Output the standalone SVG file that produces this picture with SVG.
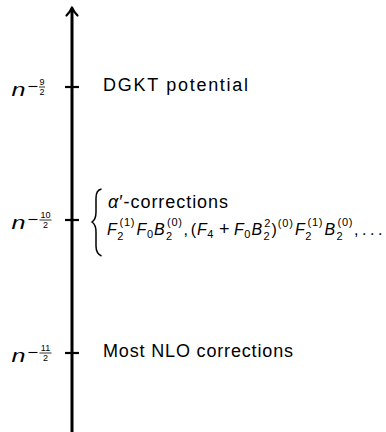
<svg xmlns="http://www.w3.org/2000/svg" width="386" height="432" viewBox="0 0 386 432">
<style>
.t{font-family:"Liberation Sans",Arial,sans-serif;fill:#000}
.m{font-family:"Liberation Sans",Arial,sans-serif;font-style:italic;fill:#000}
.s{font-size:11px}
.fr{font-size:9px}
.lb{font-size:18px}
.ax{stroke:#000;stroke-width:3;fill:none}
.tk{stroke:#000;stroke-width:2.2;fill:none}
.mi{stroke:#000;stroke-width:1.1;fill:none}
.bar{stroke:#000;stroke-width:0.8;fill:none}
</style>
<rect width="386" height="432" fill="#fff"/>
<g id="connectors">
<line class="ax" x1="72" y1="432" x2="72" y2="9"/>
<path d="M66.5,15.5 Q70.5,11.5 72,7.5 Q73.5,11.5 77.5,15.5" stroke="#000" stroke-width="2.2" fill="none" stroke-linecap="round" stroke-linejoin="round"/>
</g>
<g id="tick-9">
<line class="tk" x1="65" y1="87" x2="79" y2="87"/>
<text class="m" x="11.5" y="96" font-size="18" textLength="14" lengthAdjust="spacingAndGlyphs">n</text>
<line class="mi" x1="28.5" y1="86.5" x2="37.5" y2="86.5"/>
<text class="t fr" x="42" y="85" text-anchor="middle">9</text>
<line class="bar" x1="39" y1="87" x2="45" y2="87"/>
<text class="t fr" x="42" y="95" text-anchor="middle">2</text>
<text class="t lb" x="103" y="91" textLength="145" lengthAdjust="spacing">DGKT potential</text>
</g>
<g id="tick-10">
<line class="tk" x1="65" y1="220" x2="79" y2="220"/>
<text class="m" x="11.5" y="229" font-size="18" textLength="14" lengthAdjust="spacingAndGlyphs">n</text>
<line class="mi" x1="28.5" y1="219.5" x2="37.5" y2="219.5"/>
<text class="t fr" x="45.5" y="218" text-anchor="middle">10</text>
<line class="bar" x1="39.5" y1="220" x2="51.5" y2="220"/>
<text class="t fr" x="45.5" y="228" text-anchor="middle">2</text>
</g>
<g id="bracket">
<path d="M101.5,189 C97,190 96,193 96,198 L96,212 C96,217 95,220 92,222 C95,224 96,227 96,232 L96,246 C96,251 97,254 101.5,256" stroke="#000" stroke-width="1.5" fill="none"/>
<text class="t lb" x="108" y="207.5" textLength="120" lengthAdjust="spacing"><tspan class="m">α</tspan>′-corrections</text>
</g>
<g id="formula" font-size="16">
<text class="m" x="107" y="235">F</text>
<text class="t s" x="119.5" y="226" textLength="15" lengthAdjust="spacing">(1)</text>
<text class="t s" x="117.3" y="239.5">2</text>
<text class="m" x="136.6" y="235">F</text>
<text class="t s" x="146.9" y="237.5">0</text>
<text class="m" x="154" y="235">B</text>
<text class="t s" x="167" y="226" textLength="15" lengthAdjust="spacing">(0)</text>
<text class="t s" x="166.1" y="239.5">2</text>
<text class="t" x="183.6" y="235">,</text>
<text class="t" x="190.8" y="235">(</text>
<text class="m" x="197" y="235">F</text>
<text class="t s" x="207.3" y="237.5">4</text>
<text class="t" x="224.2" y="235" text-anchor="middle" font-size="18">+</text>
<text class="m" x="234" y="235">F</text>
<text class="t s" x="244.3" y="237.5">0</text>
<text class="m" x="251.4" y="235">B</text>
<text class="t s" x="264.3" y="226.5">2</text>
<text class="t s" x="263.5" y="239.5">2</text>
<text class="t" x="271.6" y="235">)</text>
<text class="t s" x="277.8" y="226.7" textLength="15" lengthAdjust="spacing">(0)</text>
<text class="m" x="295" y="235">F</text>
<text class="t s" x="307.5" y="226" textLength="15" lengthAdjust="spacing">(1)</text>
<text class="t s" x="305.3" y="239.5">2</text>
<text class="m" x="324.5" y="235">B</text>
<text class="t s" x="337.5" y="226" textLength="15" lengthAdjust="spacing">(0)</text>
<text class="t s" x="336.6" y="239.5">2</text>
<text class="t" x="354" y="235">,</text>
<text class="t" x="362 370 378" y="235">...</text>
</g>
<g id="tick-11">
<line class="tk" x1="65" y1="353" x2="79" y2="353"/>
<text class="m" x="11.5" y="362" font-size="18" textLength="14" lengthAdjust="spacingAndGlyphs">n</text>
<line class="mi" x1="28.5" y1="352.5" x2="37.5" y2="352.5"/>
<text class="t fr" x="45.5" y="351" text-anchor="middle">11</text>
<line class="bar" x1="39.5" y1="353" x2="51.5" y2="353"/>
<text class="t fr" x="45.5" y="361" text-anchor="middle">2</text>
<text class="t lb" x="103" y="357" textLength="190" lengthAdjust="spacing">Most NLO corrections</text>
</g>
</svg>
